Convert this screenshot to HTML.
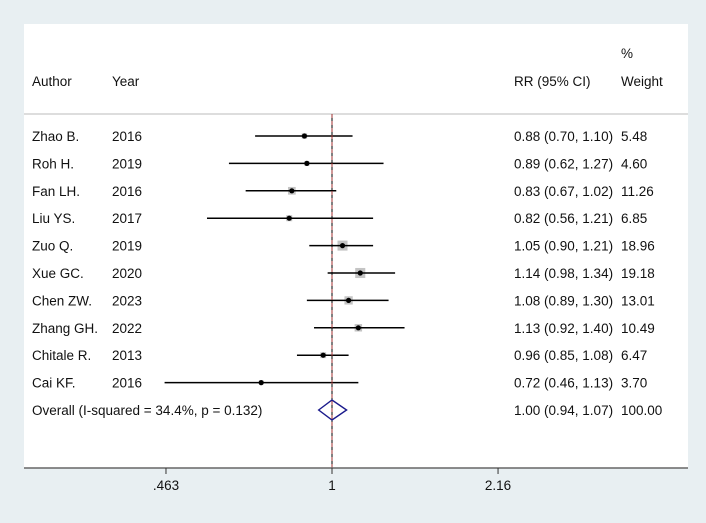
<!DOCTYPE html>
<html><head><meta charset="utf-8"><style>
body{margin:0;background:#e8eff2;}
svg{display:block;font-family:"Liberation Sans",Arial,sans-serif;}
</style></head><body>
<svg width="706" height="523">
<rect x="0" y="0" width="706" height="523" fill="#e8eff2"/>
<rect x="24" y="24" width="664" height="444" fill="#ffffff"/>
<g id="g" font-size="13.5" fill="#111"></g>
</svg>
<script>
const authors=["Zhao B.","Roh H.","Fan LH.","Liu YS.","Zuo Q.","Xue GC.","Chen ZW.","Zhang GH.","Chitale R.","Cai KF."];
const years=["2016","2019","2016","2017","2019","2020","2023","2022","2013","2016"];
const rr=[0.88,0.89,0.83,0.82,1.05,1.14,1.08,1.13,0.96,0.72];
const lo=[0.70,0.62,0.67,0.56,0.90,0.98,0.89,0.92,0.85,0.46];
const hi=[1.10,1.27,1.02,1.21,1.21,1.34,1.30,1.40,1.08,1.13];
const weights=[5.48,4.60,11.26,6.85,18.96,19.18,13.01,10.49,6.47,3.70];
const overall=[1.00,0.94,1.07];
const overallLabel="Overall  (I-squared = 34.4%, p = 0.132)";
const ticks=[0.463,1,2.16];
const tickLabels=[".463","1","2.16"];
const NS="http://www.w3.org/2000/svg";
const g=document.getElementById('g');
const X=v=>332+215.6*Math.log(v);
const Y=i=>136+27.4*i;
function mk(t,a,p){const e=document.createElementNS(NS,t);for(const k in a)e.setAttribute(k,a[k]);(p||g).appendChild(e);return e;}
function txt(x,y,s,name,anchor){const e=mk('text',{x:x,y:y+5,'text-anchor':anchor||'start'});e.textContent=s;


return e;}
txt(32,81,"Author","author-header");txt(112,81,"Year","year-header");
txt(514,81,"RR (95% CI)","rr-header");txt(621,53,"%","percent-header");txt(621,81,"Weight","weight-header");
let l=mk('line',{x1:24,x2:688,y1:114,y2:114,stroke:'#bbb','stroke-width':1});


l=mk('line',{x1:X(1),x2:X(1),y1:114,y2:468,stroke:'#000','stroke-width':1});


const f=v=>v.toFixed(2);
rr.forEach((v,i)=>{
 const y=Y(i);
 txt(32,y,authors[i],'author-label');txt(112,y,years[i],'year-label');
 txt(514,y,f(v)+" ("+f(lo[i])+", "+f(hi[i])+")",'rr-ci-label');txt(621,y,weights[i].toFixed(2),'weight-label');
 const s=2.3*Math.sqrt(weights[i]);
 const b=mk('rect',{x:X(v)-s/2,y:y-s/2,width:s,height:s,fill:'#c4c4c4'});
 
 
 const c=mk('line',{x1:X(lo[i]),x2:X(hi[i]),y1:y,y2:y,stroke:'#000','stroke-width':1.5});
 
 
 const d=mk('circle',{cx:X(v),cy:y,r:2.6,fill:'#000'});
 
 
});
const oy=Y(10);
txt(32,oy,overallLabel,'overall-label');
txt(514,oy,f(overall[0])+" ("+f(overall[1])+", "+f(overall[2])+")",'overall-rr-label');
txt(621,oy,"100.00",'overall-weight-label');
const dia=mk('polygon',{points:`${X(overall[1])},${oy} ${X(overall[0])},${oy-10} ${X(overall[2])},${oy} ${X(overall[0])},${oy+10}`,fill:'none',stroke:'#1a1a8c','stroke-width':1.4});


l=mk('line',{x1:X(overall[0]),x2:X(overall[0]),y1:114,y2:468,stroke:'#a03030','stroke-width':1,'stroke-dasharray':'4,3'});


l=mk('line',{x1:24,x2:688,y1:468,y2:468,stroke:'#666','stroke-width':1.5});


ticks.forEach((t,i)=>{
 const tk=mk('line',{x1:X(t),x2:X(t),y1:468,y2:474,stroke:'#333','stroke-width':1});
 
 
 txt(X(t),485,tickLabels[i],'x-tick-label','middle');
});
</script>
</body></html>
